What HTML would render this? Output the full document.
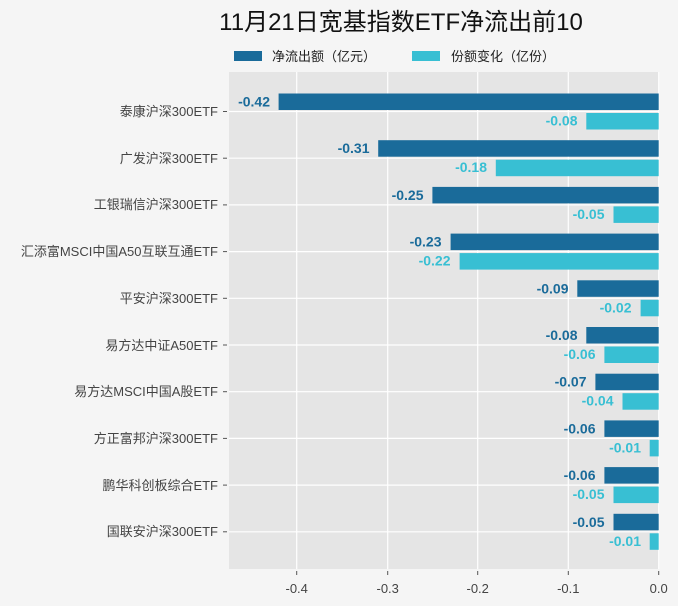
<!DOCTYPE html>
<html><head><meta charset="utf-8"><style>
html,body{margin:0;padding:0;background:#f5f5f5;}
svg{display:block;font-family:"Liberation Sans","Noto Sans CJK SC",sans-serif;}
</style></head><body>
<svg width="678" height="606" viewBox="0 0 678 606" xmlns="http://www.w3.org/2000/svg">
<rect width="678" height="606" fill="#f5f5f5"/>
<text x="401" y="30" font-size="24" text-anchor="middle" fill="#111">11月21日宽基指数ETF净流出前10</text>
<rect x="234" y="51" width="28" height="10" fill="#1a6b9a"/>
<text x="272" y="61" font-size="13" fill="#222">净流出额（亿元）</text>
<rect x="412" y="51" width="28" height="10" fill="#38bfd3"/>
<text x="451" y="61" font-size="13" fill="#222">份额变化（亿份）</text>
<rect x="229" y="72" width="430" height="497" fill="#e5e5e5"/>
<g stroke="#fff" stroke-width="1.2">
<line x1="296.7" y1="72" x2="296.7" y2="569"/><line x1="387.7" y1="72" x2="387.7" y2="569"/>
<line x1="477.7" y1="72" x2="477.7" y2="569"/><line x1="568.3" y1="72" x2="568.3" y2="569"/>
<line x1="658.7" y1="72" x2="658.7" y2="569"/>
<line x1="229" y1="111.5" x2="659" y2="111.5"/><line x1="229" y1="158.2" x2="659" y2="158.2"/>
<line x1="229" y1="204.9" x2="659" y2="204.9"/><line x1="229" y1="251.6" x2="659" y2="251.6"/>
<line x1="229" y1="298.3" x2="659" y2="298.3"/><line x1="229" y1="345" x2="659" y2="345"/>
<line x1="229" y1="391.7" x2="659" y2="391.7"/><line x1="229" y1="438.4" x2="659" y2="438.4"/>
<line x1="229" y1="485.1" x2="659" y2="485.1"/><line x1="229" y1="531.8" x2="659" y2="531.8"/>
</g>
<g stroke="#555" stroke-width="1">
<line x1="223" y1="111.5" x2="227" y2="111.5"/><line x1="223" y1="158.2" x2="227" y2="158.2"/>
<line x1="223" y1="204.9" x2="227" y2="204.9"/><line x1="223" y1="251.6" x2="227" y2="251.6"/>
<line x1="223" y1="298.3" x2="227" y2="298.3"/><line x1="223" y1="345" x2="227" y2="345"/>
<line x1="223" y1="391.7" x2="227" y2="391.7"/><line x1="223" y1="438.4" x2="227" y2="438.4"/>
<line x1="223" y1="485.1" x2="227" y2="485.1"/><line x1="223" y1="531.8" x2="227" y2="531.8"/>
<line x1="296.7" y1="571" x2="296.7" y2="575"/><line x1="387.7" y1="571" x2="387.7" y2="575"/>
<line x1="477.7" y1="571" x2="477.7" y2="575"/><line x1="568.3" y1="571" x2="568.3" y2="575"/>
<line x1="658.7" y1="571" x2="658.7" y2="575"/>
</g>
<g font-size="13" fill="#444" text-anchor="end">
<text x="218" y="116">泰康沪深300ETF</text><text x="218" y="163">广发沪深300ETF</text>
<text x="218" y="209">工银瑞信沪深300ETF</text><text x="218" y="256">汇添富MSCI中国A50互联互通ETF</text>
<text x="218" y="303">平安沪深300ETF</text><text x="218" y="350">易方达中证A50ETF</text>
<text x="218" y="396">易方达MSCI中国A股ETF</text><text x="218" y="443">方正富邦沪深300ETF</text>
<text x="218" y="490">鹏华科创板综合ETF</text><text x="218" y="536">国联安沪深300ETF</text>
</g>
<g font-size="13" fill="#444" text-anchor="middle">
<text x="296.7" y="593">-0.4</text><text x="387.7" y="593">-0.3</text><text x="477.7" y="593">-0.2</text>
<text x="568.3" y="593">-0.1</text><text x="658.7" y="593">0.0</text>
</g>
<g fill="#1a6b9a">
<rect x="278.6" y="93.5" width="380.1" height="16.5"/><rect x="378.2" y="140.2" width="280.5" height="16.5"/>
<rect x="432.4" y="186.9" width="226.3" height="16.5"/><rect x="450.6" y="233.6" width="208.1" height="16.5"/>
<rect x="577.3" y="280.3" width="81.4" height="16.5"/><rect x="586.3" y="327" width="72.4" height="16.5"/>
<rect x="595.4" y="373.7" width="63.3" height="16.5"/><rect x="604.4" y="420.4" width="54.3" height="16.5"/>
<rect x="604.4" y="467.1" width="54.3" height="16.5"/><rect x="613.5" y="513.8" width="45.2" height="16.5"/>
</g>
<g fill="#38bfd3">
<rect x="586.3" y="113" width="72.4" height="16.5"/><rect x="495.8" y="159.7" width="162.9" height="16.5"/>
<rect x="613.5" y="206.4" width="45.2" height="16.5"/><rect x="459.6" y="253.1" width="199.1" height="16.5"/>
<rect x="640.6" y="299.8" width="18.1" height="16.5"/><rect x="604.4" y="346.5" width="54.3" height="16.5"/>
<rect x="622.5" y="393.2" width="36.2" height="16.5"/><rect x="649.7" y="439.9" width="9" height="16.5"/>
<rect x="613.5" y="486.6" width="45.2" height="16.5"/><rect x="649.7" y="533.3" width="9" height="16.5"/>
</g>
<g font-size="14" font-weight="bold" fill="#1a6b9a" text-anchor="end">
<text x="270" y="106.5">-0.42</text><text x="369.5" y="153.2">-0.31</text>
<text x="423.5" y="199.9">-0.25</text><text x="441.5" y="246.6">-0.23</text>
<text x="568.5" y="293.3">-0.09</text><text x="577.5" y="340">-0.08</text>
<text x="586.5" y="386.7">-0.07</text><text x="595.5" y="433.4">-0.06</text>
<text x="595.5" y="480.1">-0.06</text><text x="604.5" y="526.8">-0.05</text>
</g>
<g font-size="14" font-weight="bold" fill="#38bfd3" text-anchor="end">
<text x="577.5" y="125.5">-0.08</text><text x="487" y="172.2">-0.18</text>
<text x="604.5" y="218.9">-0.05</text><text x="450.5" y="265.6">-0.22</text>
<text x="631.5" y="312.3">-0.02</text><text x="595.5" y="359">-0.06</text>
<text x="613.5" y="405.7">-0.04</text><text x="641" y="452.4">-0.01</text>
<text x="604.5" y="499.1">-0.05</text><text x="641" y="545.8">-0.01</text>
</g>
</svg>
</body></html>
